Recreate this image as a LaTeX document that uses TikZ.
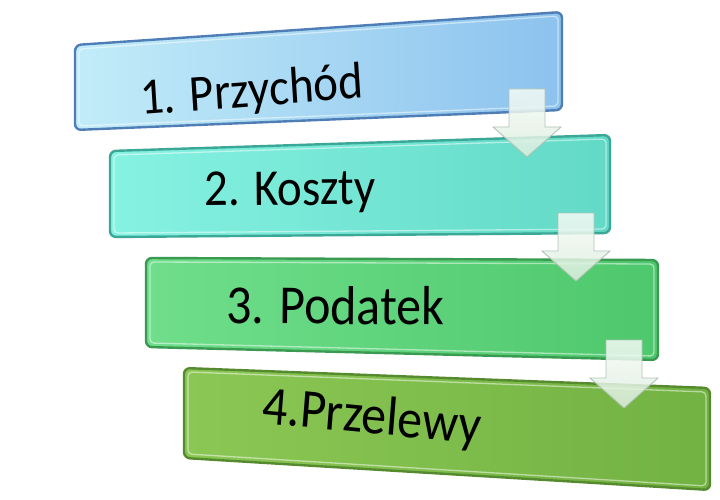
\documentclass[tikz,border=0pt]{standalone}
\usepackage{fontspec}
\setmainfont{Carlito}
\definecolor{b1l}{HTML}{C2ECF8}
\definecolor{b1r}{HTML}{8CC2EE}
\definecolor{b1d}{HTML}{4F7DB5}
\definecolor{b2l}{HTML}{86F2E2}
\definecolor{b2r}{HTML}{62D9C6}
\definecolor{b2d}{HTML}{3BA797}
\definecolor{b3l}{HTML}{70DE8C}
\definecolor{b3r}{HTML}{4EC86C}
\definecolor{b3d}{HTML}{3A9A52}
\definecolor{b4l}{HTML}{8BC754}
\definecolor{b4r}{HTML}{72B243}
\definecolor{b4d}{HTML}{568A2F}
\definecolor{arrtop}{HTML}{F6FBF7}
\definecolor{arrbot}{HTML}{DDEEDF}
\definecolor{arrline}{HTML}{AFC1B2}
\begin{document}
\begin{tikzpicture}[x=1pt,y=-1pt]
\tikzset{
  panel/.style={rounded corners=6pt, line width=2.4pt, line join=round},
  bevel/.style={rounded corners=4pt, line width=1.3pt, draw=white, draw opacity=0.5},
  flowarrow/.style={top color=arrtop, bottom color=arrbot, fill opacity=0.85,
                    draw=arrline, draw opacity=0.95, line width=0.9pt, line join=miter},
  boxlabel/.style={text=black, inner sep=0pt, anchor=base west, yscale=1.1},
  pics/downarrow/.style={code={
    \path[flowarrow] (-18,0) -- (18,0) -- (18,38) -- (34,38) -- (0,68)
                     -- (-34,38) -- (-18,38) -- cycle;}}
}
\useasboundingbox (0,0) rectangle (720,500);
\fill[white] (0,0) rectangle (720,500);

% box 1
\coordinate (b1tl) at (75,45);  \coordinate (b1tr) at (562,12);
\coordinate (b1br) at (562,110); \coordinate (b1bl) at (75,130);
\shade[panel, draw=b1d, left color=b1l, right color=b1r]
  (b1tl) -- (b1tr) -- (b1br) -- (b1bl) -- cycle;
\draw[bevel] (79,49) -- (558,16) -- (558,106) -- (79,126) -- cycle;

% box 2
\coordinate (b2tl) at (110,151); \coordinate (b2tr) at (610,135);
\coordinate (b2br) at (610,233); \coordinate (b2bl) at (110,237);
\shade[panel, draw=b2d, left color=b2l, right color=b2r]
  (b2tl) -- (b2tr) -- (b2br) -- (b2bl) -- cycle;
\draw[bevel] (114,155) -- (606,139) -- (606,229) -- (114,233) -- cycle;

% box 3
\coordinate (b3tl) at (146,258); \coordinate (b3tr) at (658,260);
\coordinate (b3br) at (658,360); \coordinate (b3bl) at (146,347);
\shade[panel, draw=b3d, left color=b3l, right color=b3r]
  (b3tl) -- (b3tr) -- (b3br) -- (b3bl) -- cycle;
\draw[bevel] (150,262) -- (654,264) -- (654,356) -- (150,343) -- cycle;

% box 4
\coordinate (b4tl) at (184,368); \coordinate (b4tr) at (710,388);
\coordinate (b4br) at (710,490); \coordinate (b4bl) at (184,458);
\shade[panel, draw=b4d, left color=b4l, right color=b4r]
  (b4tl) -- (b4tr) -- (b4br) -- (b4bl) -- cycle;
\draw[bevel] (188,372) -- (706,392) -- (706,486) -- (188,454) -- cycle;

% labels
\node[boxlabel, rotate=4, font=\fontsize{47}{50}\selectfont] (t1) at (141,115) {1. Przychód};
\node[boxlabel, rotate=0.5, font=\fontsize{47}{50}\selectfont] (t2) at (204,206) {2. Koszty};
\node[boxlabel, rotate=-0.5, font=\fontsize{50}{54}\selectfont] (t3) at (226,323) {3. Podatek};
\node[boxlabel, rotate=-5, font=\fontsize{50}{54}\selectfont] (t4) at (261,423) {4.Przelewy};

% arrows
\coordinate (a1) at (527,89);
\coordinate (a2) at (576,213);
\coordinate (a3) at (624,340);
\pic at (a1) {downarrow};
\pic at (a2) {downarrow};
\pic at (a3) {downarrow};
\end{tikzpicture}
\end{document}
